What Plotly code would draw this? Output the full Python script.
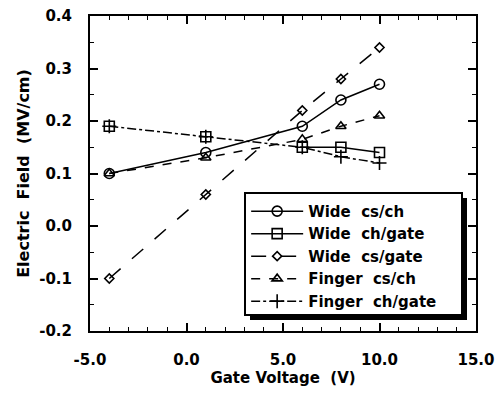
import plotly.graph_objects as go

gate_voltage = [-4, 1, 6, 8, 10]
wide_cs_ch = [0.10, 0.14, 0.19, 0.24, 0.27]
wide_ch_gate = [0.19, 0.17, 0.15, 0.15, 0.14]
wide_cs_gate = [-0.10, 0.06, 0.22, 0.28, 0.34]
finger_cs_ch = [0.10, 0.13, 0.165, 0.19, 0.21]
finger_ch_gate = [0.19, 0.17, 0.15, 0.132, 0.12]

x_tickvals = [-5, 0, 5, 10, 15]
x_ticktext = ["-5.0", "0.0", "5.0", "10.0", "15.0"]
y_tickvals = [-0.2, -0.1, 0.0, 0.1, 0.2, 0.3, 0.4]
y_ticktext = ["-0.2", "-0.1", "0.0", "0.1", "0.2", "0.3", "0.4"]

NB = "\u00a0"
# (name, values, dash, symbol, size, index where the drawn line starts)
series = [
    ("Wide" + NB * 2 + "cs/ch", wide_cs_ch, "solid", "circle-open", 10, 0),
    ("Wide" + NB * 2 + "ch/gate", wide_ch_gate, "solid", "square-open", 10, 2),
    ("Wide" + NB * 2 + "cs/gate", wide_cs_gate, "longdash", "diamond-open", 7, 0),
    ("Finger" + NB * 2 + "cs/ch", finger_cs_ch, "dash", "triangle-up-open", 9, 0),
    ("Finger" + NB * 2 + "ch/gate", finger_ch_gate, "dashdot", "cross-thin-open", 10, 0),
]

FAM = "DejaVu Sans, Liberation Sans, sans-serif"
F15 = dict(family=FAM, size=15, color="black", weight="bold")
F16 = dict(family=FAM, size=16, color="black", weight="bold")
fig = go.Figure()
for name, ys, dash, sym, sz, start in series:
    marker = dict(symbol=sym, size=sz, color="black", line=dict(width=1.6, color="black"))
    if start > 0:
        fig.add_trace(go.Scatter(
            x=gate_voltage[:start], y=ys[:start], mode="markers",
            marker=marker, showlegend=False, hoverinfo="skip",
        ))
    fig.add_trace(go.Scatter(
        x=gate_voltage[start:], y=ys[start:], name=name, mode="lines+markers",
        line=dict(color="black", width=1.5, dash=dash),
        marker=marker,
    ))

# legend box with drop shadow (paper coordinates)
W, H = 386.0, 315.0
bx0, bx1, by0, by1 = (245 - 90) / W, (462 - 90) / W, (331 - 315) / H, (331 - 193) / H
sx, sy = 5 / W, 5 / H
fig.add_shape(type="rect", xref="paper", yref="paper",
              x0=bx0 + sx, x1=bx1 + sx, y0=by0 - sy, y1=by1 - sy,
              fillcolor="black", line=dict(width=0), layer="above")
fig.add_shape(type="rect", xref="paper", yref="paper", x0=bx0, x1=bx1, y0=by0, y1=by1,
              fillcolor="white", line=dict(width=2, color="black"), layer="above")

fig.update_layout(
    width=497, height=397,
    margin=dict(l=90, r=21, t=16, b=66, autoexpand=False),
    paper_bgcolor="white", plot_bgcolor="white",
    font=F15,
    showlegend=True,
    legend=dict(
        x=bx0 + 0.003, y=by1 - 0.006, xanchor="left", yanchor="top",
        bgcolor="rgba(0,0,0,0)", borderwidth=0,
        font=F15,
        tracegroupgap=0, itemwidth=52,
    ),
    xaxis=dict(
        range=[-5, 15], tickvals=x_tickvals, ticktext=x_ticktext,
        ticks="inside", ticklen=8, tickwidth=1.5, tickcolor="black",
        minor=dict(ticks="inside", dtick=1, ticklen=4, tickcolor="black", tickwidth=1.2),
        showline=True, linecolor="black", linewidth=2, mirror="allticks",
        showgrid=False, zeroline=False, ticklabelstandoff=14, automargin=False,
        tickfont=F15,
        title=dict(text="Gate Voltage  (V)", standoff=0, font=F15),
    ),
    yaxis=dict(
        range=[-0.2, 0.4], tickvals=y_tickvals, ticktext=y_ticktext,
        ticks="inside", ticklen=8, tickwidth=1.5, tickcolor="black",
        minor=dict(ticks="inside", dtick=0.05, ticklen=4, tickcolor="black", tickwidth=1.2),
        showline=True, linecolor="black", linewidth=2, mirror="allticks",
        showgrid=False, zeroline=False, ticklabelstandoff=13, automargin=False,
        tickfont=F15,
        title=dict(text="Electric  Field  (MV/cm)", standoff=6, font=F16),
    ),
)

fig.write_html("out.html")
